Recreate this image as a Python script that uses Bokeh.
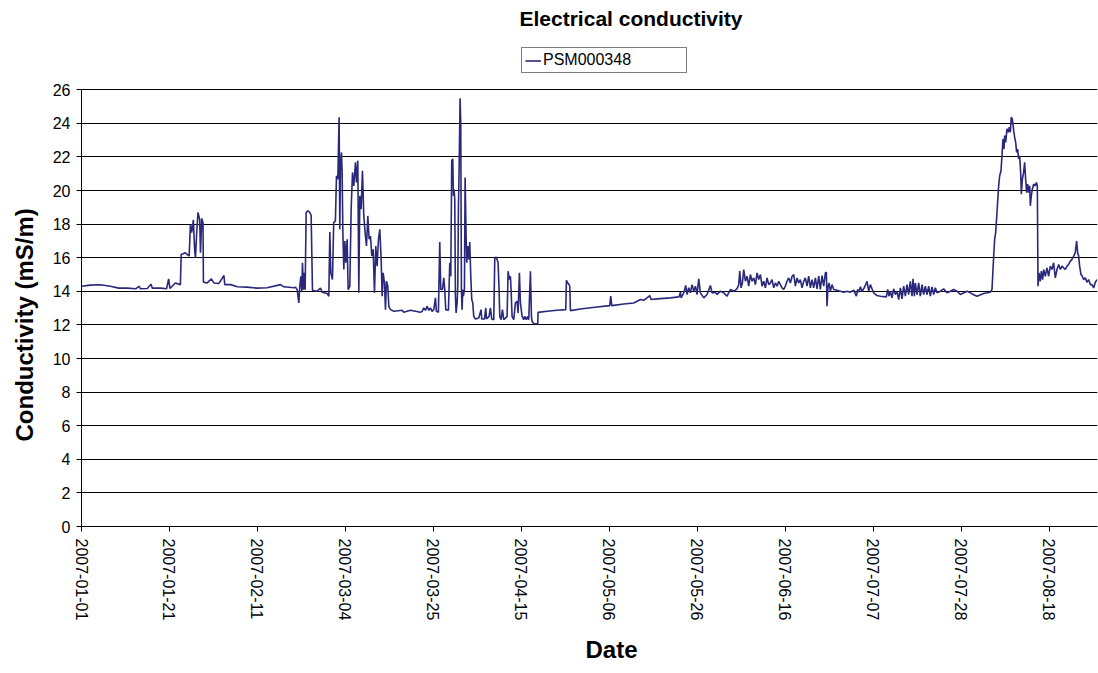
from bokeh.plotting import figure
from bokeh.models import Range1d, FixedTicker, Legend, LegendItem, Title
from bokeh.embed import file_html
from bokeh.resources import INLINE

# x positions are day-steps along the logger's axis; tick labels below
tick_pos = [0, 21, 42, 63, 84, 105, 126, 147, 168, 189, 210, 231]
tick_labels = ["2007-01-01", "2007-01-21", "2007-02-11", "2007-03-04", "2007-03-25",
               "2007-04-15", "2007-05-06", "2007-05-26", "2007-06-16", "2007-07-07",
               "2007-07-28", "2007-08-18"]
y_ticks = list(range(0, 27, 2))

seg1_days = [0.0, 2.1, 4.5, 6.9, 8.9, 10.9, 12.9, 13.7, 14.1, 15.7, 16.6, 16.9, 18.9, 20.3,
             20.8, 21.1, 22.4, 23.6, 23.8, 24.8, 25.2, 25.7, 26.0, 26.3, 26.7, 27.0, 27.2,
             27.5, 27.8, 28.2, 28.4, 28.7, 29.0, 29.1, 30.0, 31.0, 31.6, 32.8, 34.0, 34.2,
             35.6, 37.2, 39.5, 41.9, 44.3, 47.5, 48.3, 50.7]
seg1_vals = [14.3, 14.37, 14.39, 14.3, 14.19, 14.19, 14.15, 14.3, 14.15, 14.17, 14.42, 14.19,
             14.19, 14.15, 14.74, 14.17, 14.5, 14.4, 16.2, 16.3, 16.2, 16.1, 17.99, 17.5,
             18.25, 16.5, 16.0, 17.5, 18.69, 18.29, 16.3, 18.33, 18.09, 14.55, 14.5, 14.74,
             14.5, 14.47, 14.94, 14.4, 14.4, 14.27, 14.25, 14.19, 14.21, 14.4, 14.27, 14.21]

seg2_days = [51.07, 51.47, 51.87, 52.1, 52.35, 52.58, 52.74, 52.98, 53.22, 53.38, 53.62, 54.0,
             54.4, 54.81, 55.13, 56.24, 57.04, 57.44, 58.63, 59.03, 59.27, 59.5, 59.9, 60.2,
             60.6, 60.86, 61.18, 61.49, 61.65, 61.81, 62.05, 62.21, 62.37, 62.61, 62.85,
             63.09, 63.4, 63.64, 64.04, 64.36, 64.68, 64.99, 65.39, 65.63, 65.95, 66.19,
             66.43, 66.74, 67.06, 67.38, 67.7, 68.02, 68.34, 68.65, 68.97, 69.29, 69.61,
             69.93, 70.24, 70.56, 70.88, 71.2, 71.52, 71.76, 72.0, 72.31, 72.55, 72.79,
             73.11, 73.35, 73.75, 74.54, 76.53, 76.93, 78.52, 80.9]
seg2_vals = [14.25, 14.1, 13.31, 14.3, 14.9, 14.0, 15.7, 14.1, 15.1, 14.1, 18.69, 18.79,
             18.73, 18.53, 14.07, 14.0, 14.2, 13.95, 13.87, 13.71, 17.53, 15.1, 14.7, 18.09,
             18.19, 20.88, 20.68, 24.37, 17.69, 21.48, 22.27, 21.08, 17.69, 15.3, 17.0,
             15.7, 17.1, 14.1, 14.3, 18.89, 21.08, 20.28, 21.68, 20.48, 21.78, 13.91,
             19.68, 18.89, 21.18, 18.49, 17.49, 16.7, 18.49, 17.1, 17.29, 16.1, 16.5,
             13.91, 16.7, 15.5, 17.1, 17.69, 15.9, 13.71, 15.1, 14.5, 12.91, 14.6,
             14.3, 13.11, 12.91, 12.81, 12.87, 12.75, 12.87, 12.75]

seg3_days = [81.3, 81.69, 82.09, 82.49, 82.89, 83.28, 83.68, 84.08, 84.48, 84.71, 85.19, 85.51,
             85.75, 86.15, 86.47, 86.7, 86.94, 87.58, 87.9, 88.14, 88.37, 88.61, 88.77, 88.93,
             89.09, 89.25, 89.41, 89.65, 89.81, 89.97, 90.12, 90.36, 90.52, 90.68, 90.84,
             91.0, 91.16, 91.4, 91.56, 91.8, 91.95, 92.19, 92.43, 92.67, 92.91, 93.15, 93.39,
             93.62, 94.02, 94.82, 95.37, 95.53, 96.17, 96.49, 96.65, 97.28, 97.6, 97.92,
             98.4, 98.64, 98.95, 99.19, 99.43, 99.67, 99.83, 100.15, 100.47, 100.78, 101.58,
             101.82, 102.14, 102.38, 102.53, 102.77, 103.17, 103.57, 103.97, 104.2, 104.52,
             104.76, 105.16, 105.56, 105.8, 106.19, 106.51, 106.75]
seg3_vals = [12.81, 13.01, 12.87, 13.11, 12.87, 13.01, 12.81, 12.91, 13.61, 12.81, 12.75, 16.93,
             14.11, 14.11, 14.8, 14.11, 12.91, 12.87, 15.7, 14.9, 21.78, 21.88, 19.68, 20.08,
             19.48, 13.71, 12.71, 13.31, 14.31, 19.09, 21.08, 25.5, 24.07, 14.11, 12.91,
             14.11, 13.71, 14.11, 20.78, 17.29, 15.7, 16.7, 15.9, 16.93, 14.9, 13.51, 13.31,
             12.51, 12.35, 12.41, 12.91, 12.35, 12.35, 13.01, 12.35, 12.51, 13.01, 12.35,
             12.31, 15.94, 16.04, 15.9, 15.7, 14.11, 12.51, 12.31, 12.91, 12.31, 12.51,
             15.2, 14.7, 14.9, 14.11, 12.51, 12.31, 13.31, 13.41, 12.71, 15.1,
             13.31, 12.51, 12.31, 12.51, 12.31, 12.51, 12.31]

seg4_days = [107.15, 107.39, 107.55, 107.95, 108.74, 108.9, 108.98, 111.13, 113.51, 115.58,
             115.74, 116.06, 116.38, 116.54, 116.7, 119.08, 123.06, 126.08, 126.32, 126.56,
             129.42, 131.81, 133.4, 134.2, 134.99, 135.63, 135.95, 137.38, 140.56, 142.63,
             142.95, 143.11, 143.74, 144.22, 144.54, 144.94, 145.33, 145.73, 146.13, 146.53,
             146.93, 147.32, 147.72, 148.52, 149.31, 150.11, 150.5, 151.3, 151.7, 152.49,
             153.29, 154.08, 154.88, 155.68, 156.47, 156.87, 157.11, 157.43, 157.74, 158.06,
             158.46, 158.86, 159.25, 159.65, 160.05, 160.45, 160.85, 161.24, 161.64, 162.04,
             162.44, 162.84, 163.23, 163.63, 164.03, 164.43, 164.82, 165.22, 165.62, 166.02,
             166.41, 166.81, 167.21, 167.61, 168.0, 168.4, 168.8, 169.2, 169.6, 169.99,
             170.39, 170.79, 171.19, 171.58, 171.98, 172.38]
seg4_vals = [15.2, 12.51, 12.2, 12.07, 12.07, 12.07, 12.75, 12.81, 12.87, 12.91,
             14.66, 14.5, 14.4, 14.3, 12.85, 12.95, 13.07, 13.15, 13.71, 13.15,
             13.25, 13.31, 13.51, 13.47, 13.61, 13.75, 13.51, 13.55, 13.61, 13.67,
             13.95, 13.61, 13.91, 14.35, 13.81, 14.21, 13.91, 14.4, 14.01, 14.31,
             13.81, 14.74, 13.91, 13.61, 13.81, 14.35, 13.91, 13.95, 13.81, 14.01,
             13.91, 13.71, 14.11, 14.01, 14.15, 14.4, 15.2, 14.21, 14.5, 15.3,
             14.6, 14.9, 14.31, 15.0, 14.6, 14.8, 14.4, 15.1, 14.7, 15.0,
             14.31, 14.6, 14.21, 14.8, 14.4, 14.5, 14.7, 14.21, 14.5, 14.31,
             14.6, 14.4, 14.21, 14.11, 14.31, 14.6, 14.8, 14.5, 14.9, 15.0,
             14.31, 14.8, 14.5, 14.7, 14.21, 14.6]

seg5_days = [172.77, 173.17, 173.57, 173.97, 174.36, 174.76, 175.16, 175.56, 175.96, 176.35,
             176.75, 177.15, 177.55, 177.79, 177.94, 178.18, 178.42, 178.74, 179.14, 179.54,
             180.33, 181.13, 181.92, 182.72, 183.51, 184.31, 184.94, 185.26, 185.58, 185.9,
             186.3, 186.69, 187.09, 187.49, 187.89, 188.29, 188.68, 189.08, 189.88, 190.67,
             192.1, 192.42, 192.74, 193.06, 193.46, 193.85, 194.25, 194.65, 195.05, 195.45,
             195.84, 196.24, 196.64, 197.04, 197.43, 197.83, 198.23, 198.47, 198.79, 199.02,
             199.42, 199.82, 200.22, 200.62, 201.01, 201.41, 201.81, 202.21, 202.6, 203.0,
             203.4, 203.8, 204.2, 204.99, 205.79, 206.58, 207.38, 208.17, 208.97, 209.76]
seg5_vals = [14.8, 14.31, 14.9, 14.21, 14.7, 14.21, 14.8, 14.15, 14.9, 14.11,
             14.94, 14.31, 15.1, 15.14, 13.11, 14.31, 14.5, 14.01, 14.4, 14.11,
             14.07, 14.01, 13.95, 14.01, 13.95, 14.07, 13.71, 14.11, 13.95, 14.27,
             14.01, 14.15, 14.35, 14.6, 14.01, 14.4, 14.15, 13.91, 13.75, 13.71,
             13.67, 14.11, 13.71, 14.01, 13.61, 14.15, 13.81, 14.01, 13.51, 14.21,
             13.55, 14.31, 13.71, 14.4, 13.81, 14.6, 13.71, 14.74, 13.71, 14.5,
             13.81, 14.5, 13.71, 14.4, 13.81, 14.31, 13.81, 14.31, 13.71, 14.27,
             13.81, 14.21, 13.91, 14.01, 14.15, 13.91, 14.01, 14.11, 14.01, 13.81]

seg6_days = [211.35, 212.15, 212.94, 213.74, 215.33, 216.92, 217.32, 217.72, 217.95, 218.19,
             218.51, 218.91, 219.15, 219.47, 219.7, 219.94, 220.18, 220.34, 220.58, 220.9,
             221.22, 221.45, 221.69, 221.93, 222.17, 222.49, 222.73, 222.97, 223.2, 223.44,
             223.68, 223.92, 224.16, 224.32, 224.56, 224.87, 225.11, 225.35, 225.59, 225.83,
             226.07, 226.31, 226.47, 226.7, 226.94, 227.26, 227.66, 227.9, 228.14, 228.3,
             228.53, 228.85, 229.09, 229.41, 229.65, 230.04, 230.44, 230.84, 231.24, 231.64,
             232.03, 232.43, 232.83, 233.23, 233.63, 234.02, 234.42, 234.82, 235.22, 235.61,
             236.01, 236.41, 236.81, 237.2, 237.52, 237.76, 238.0, 238.24, 238.56, 238.88,
             239.19, 239.59, 239.99, 240.39, 240.78, 241.18, 241.58, 241.98, 242.38]
seg6_vals = [14.0, 13.91, 13.8, 13.71, 13.87, 13.95, 14.11, 16.1, 17.09, 17.49,
             18.69, 20.28, 20.88, 21.18, 22.07, 23.07, 22.47, 23.27, 22.87, 23.67,
             23.47, 23.77, 23.47, 24.37, 24.27, 23.57, 23.17, 22.87, 22.27, 22.47,
             21.88, 22.07, 21.08, 19.78, 20.68, 21.08, 21.68, 20.68, 19.88, 20.38,
             19.88, 20.28, 19.09, 19.68, 20.08, 20.38, 20.28, 20.48, 20.28, 14.3,
             15.1, 14.6, 15.2, 14.7, 15.3, 14.9, 15.4, 14.9, 15.5, 15.3,
             15.7, 14.8, 15.3, 15.6, 15.3, 15.5, 15.4, 15.3, 15.5, 15.6,
             15.8, 15.9, 16.1, 16.3, 17.0, 16.3, 16.1, 15.5, 15.0, 14.9,
             14.7, 14.8, 14.54, 14.7, 14.4, 14.4, 14.2, 14.54, 14.7]

days = seg1_days + seg2_days + seg3_days + seg4_days + seg5_days + seg6_days
vals = seg1_vals + seg2_vals + seg3_vals + seg4_vals + seg5_vals + seg6_vals

FONT = "Liberation Sans"
LINE_COLOR = "#29287a"

# y range has headroom above 26 so the legend box sits inside the frame;
# the axis itself is bounded to 0..26
p = figure(width=1098, height=673, output_backend="svg", toolbar_location=None,
           x_range=Range1d(0, 242.5), y_range=Range1d(0, 29.35),
           min_border_left=81, min_border_right=1, min_border_top=30, min_border_bottom=10,
           title="Electrical conductivity")
p.title.text_font = FONT
p.title.text_font_size = "21px"
p.title.text_font_style = "bold"
p.title.text_color = "black"
p.title.align = "left"
p.title.offset = 438
p.title.standoff = 8

r = p.line(days, vals, line_color=LINE_COLOR, line_width=1.6)

legend = Legend(items=[LegendItem(label="PSM000348", renderers=[r])],
                location=(440, 453), orientation="vertical")
legend.label_text_font = FONT
legend.label_text_font_size = "16px"
legend.label_text_color = "black"
legend.border_line_color = "black"
legend.border_line_width = 1
legend.background_fill_color = "white"
legend.background_fill_alpha = 1
legend.glyph_width = 16
legend.glyph_height = 15
legend.label_standoff = 2
legend.label_width = 140
legend.padding = 3
legend.margin = 0
legend.spacing = 0
legend.label_height = 15
p.add_layout(legend, "center")

p.xaxis.ticker = FixedTicker(ticks=tick_pos)
p.xaxis.major_label_overrides = {t: l for t, l in zip(tick_pos, tick_labels)}
p.xaxis.major_label_orientation = "vertical"
p.yaxis.ticker = FixedTicker(ticks=y_ticks)
p.yaxis.bounds = (0, 26)

for ax in (p.xaxis, p.yaxis):
    ax.major_label_text_font = FONT
    ax.major_label_text_font_size = "16px"
    ax.major_label_text_color = "black"
    ax.axis_line_color = "black"
    ax.major_tick_line_color = "black"
    ax.major_tick_out = 5
    ax.major_tick_in = 0
    ax.minor_tick_line_color = None

p.yaxis.major_label_standoff = 6
p.xaxis.major_label_standoff = 7

# axis titles
ylab = Title(text="Conductivity (mS/m)", align="left", offset=85, standoff=20,
             vertical_align="top",
             text_font=FONT, text_font_size="24px", text_font_style="bold", text_color="black")
p.add_layout(ylab, "left")
xlab = Title(text="Date", align="left", offset=504, standoff=21,
             text_font=FONT, text_font_size="24px", text_font_style="bold", text_color="black")
p.add_layout(xlab, "below")

p.xgrid.grid_line_color = None
p.ygrid.grid_line_color = "black"
p.ygrid.grid_line_width = 1
p.outline_line_color = None
p.background_fill_color = "white"
p.border_fill_color = "white"

open("out.html", "w").write(file_html(p, INLINE))
